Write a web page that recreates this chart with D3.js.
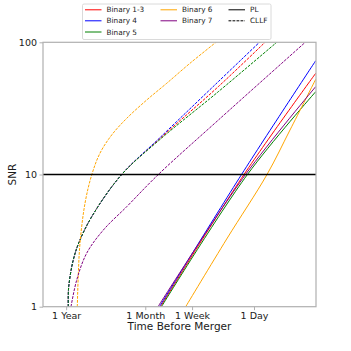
<!DOCTYPE html>
<html>
<head>
<meta charset="utf-8">
<script src="https://cdn.jsdelivr.net/npm/d3@7"></script>
<style>
  body { margin: 0; background: #fff; }
  text { font-family: "DejaVu Sans", sans-serif; fill: #1a1a1a; }
</style>
</head>
<body>
<div id="vis"></div>
<script>

// time before merger in days, SNR
var plBinary13 = [[18.9, 1], [1.37, 10], [0.144, 58.3]];
var plBinary4 = [[19.5, 1], [1.48, 10], [0.144, 72.6]];
var plBinary5 = [[18.3, 1], [1.23, 10], [0.144, 42.3]];
var plBinary6 = [[8.55, 1], [2.36, 3.25], [0.665, 10], [0.323, 21.7], [0.144, 52.5]];
var plBinary7 = [[20.4, 1], [1.306, 10], [0.144, 46.2]];

var cllfBinary13 = [[341.6, 1], [338.3, 1.385], [292, 2.26], [236.5, 3.2], [155.7, 5.02], [63.8, 10], [19.2, 18.7], [3.07, 46.2], [0.708, 100]];
var cllfBinary4 = [[341.6, 1], [338.3, 1.385], [292, 2.26], [236.5, 3.2], [155.7, 5.02], [63.8, 10], [19.2, 19.0], [3.07, 50.4], [0.828, 101]];
var cllfBinary5 = [[341.6, 1], [338.3, 1.385], [292, 2.26], [236.5, 3.2], [155.7, 5.02], [63.8, 10], [19.2, 18.4], [3.07, 42.3], [0.49, 100]];
var cllfBinary6 = [[257.5, 1], [249.5, 1.74], [236.5, 3.02], [202.1, 6.06], [163.8, 9.91], [126.2, 14.5], [87.4, 19.9], [54.5, 26.6], [29.1, 36.6], [15.5, 49], [7.47, 69.4], [3.23, 101]];
var cllfBinary7 = [[313.8, 1], [262.4, 1.59], [191.6, 2.54], [113.7, 3.8], [54.5, 5.71], [20.2, 10], [3.07, 25.8], [0.2, 100]];

var binaryNames = ['Binary 1-3', 'Binary 4', 'Binary 5', 'Binary 6', 'Binary 7'];
var binaryColors = ['#ff0000', '#0000ff', '#008000', '#ffa500', '#800080'];
var plSeries = [plBinary13, plBinary4, plBinary5, plBinary6, plBinary7];
var cllfSeries = [cllfBinary13, cllfBinary4, cllfBinary5, cllfBinary6, cllfBinary7];

var xTickValues = [365.25, 30.44, 7, 1];
var xTickLabels = ['1 Year', '1 Month', '1 Week', '1 Day'];
var yTickValues = [1, 10, 100];
var thresholdSNR = 10;

var width = 351;
var height = 351;
var margin = { left: 43, right: 35, top: 42.3, bottom: 44.3 };

var svg = d3.select('#vis').append('svg')
  .attr('width', width)
  .attr('height', height);

var x = d3.scaleLog()
  .domain([756, 0.1427])
  .range([margin.left, width - margin.right]);

var y = d3.scaleLog()
  .domain([1, 100])
  .range([height - margin.bottom, margin.top]);

svg.append('clipPath').attr('id', 'plotclip')
  .append('rect')
  .attr('x', margin.left)
  .attr('y', margin.top)
  .attr('width', width - margin.left - margin.right)
  .attr('height', height - margin.top - margin.bottom);

var line = d3.line()
  .x(function (d) { return x(d[0]); })
  .y(function (d) { return y(d[1]); })
  .curve(d3.curveCatmullRom.alpha(0.5));

var plot = svg.append('g').attr('clip-path', 'url(#plotclip)');

plot.selectAll('.pl')
  .data(plSeries)
  .enter().append('path')
  .attr('class', 'pl')
  .attr('d', line)
  .attr('fill', 'none')
  .attr('stroke', function (d, i) { return binaryColors[i]; })
  .attr('stroke-width', 1);

plot.selectAll('.cllf')
  .data(cllfSeries)
  .enter().append('path')
  .attr('class', 'cllf')
  .attr('d', line)
  .attr('fill', 'none')
  .attr('stroke', function (d, i) { return binaryColors[i]; })
  .attr('stroke-width', 1)
  .attr('stroke-dasharray', '2.8,1.2');

// SNR threshold
plot.append('line')
  .attr('x1', margin.left)
  .attr('x2', width - margin.right)
  .attr('y1', y(thresholdSNR))
  .attr('y2', y(thresholdSNR))
  .attr('stroke', '#000')
  .attr('stroke-width', 1.3);

// frame
svg.append('rect')
  .attr('x', margin.left)
  .attr('y', margin.top)
  .attr('width', width - margin.left - margin.right)
  .attr('height', height - margin.top - margin.bottom)
  .attr('fill', 'none')
  .attr('stroke', '#b0b0b0')
  .attr('stroke-width', 1.2);

var xAxis = d3.axisBottom(x)
  .tickValues(xTickValues)
  .tickFormat(function (d, i) { return xTickLabels[i]; })
  .tickSize(3.5)
  .tickPadding(2.5);

var xg = svg.append('g')
  .attr('transform', 'translate(0,' + (height - margin.bottom) + ')')
  .call(xAxis);

var yAxis = d3.axisLeft(y)
  .tickValues(yTickValues)
  .tickFormat(d3.format('d'))
  .tickSize(3.5)
  .tickPadding(2.5);

var yg = svg.append('g')
  .attr('transform', 'translate(' + margin.left + ',0)')
  .call(yAxis);

[xg, yg].forEach(function (g) {
  g.select('.domain').remove();
  g.selectAll('.tick line').attr('stroke', '#b0b0b0').attr('stroke-width', 1);
  g.selectAll('.tick text')
    .style('font-family', '"DejaVu Sans", sans-serif')
    .style('font-size', '9.5px')
    .attr('fill', '#1a1a1a');
});

svg.append('text')
  .attr('x', (margin.left + width - margin.right) / 2)
  .attr('y', 330)
  .attr('text-anchor', 'middle')
  .style('font-size', '10.5px')
  .text('Time Before Merger');

svg.append('text')
  .attr('transform', 'translate(16,' + ((margin.top + height - margin.bottom) / 2) + ') rotate(-90)')
  .attr('text-anchor', 'middle')
  .style('font-size', '10.5px')
  .text('SNR');

// legend
var legendItems = binaryNames.map(function (n, i) {
  return { label: n, color: binaryColors[i], dash: null };
});
legendItems.push({ label: 'PL', color: '#000', dash: null });
legendItems.push({ label: 'CLLF', color: '#000', dash: '2.8,1.2' });

var legendPos = [[0, 0], [0, 1], [0, 2], [1, 0], [1, 1], [2, 0], [2, 1]];
var colX = [85, 160.5, 228.5];
var rowY = [9.8, 20.8, 32];

var legend = svg.append('g');

legend.append('rect')
  .attr('x', 82.5)
  .attr('y', 4)
  .attr('width', 188.5)
  .attr('height', 35.5)
  .attr('rx', 1.5)
  .attr('fill', '#fff')
  .attr('stroke', '#d0d0d0')
  .attr('stroke-width', 0.8);

var li = legend.selectAll('.li')
  .data(legendItems)
  .enter().append('g')
  .attr('class', 'li')
  .attr('transform', function (d, i) {
    return 'translate(' + colX[legendPos[i][0]] + ',' + rowY[legendPos[i][1]] + ')';
  });

li.append('line')
  .attr('x1', 0)
  .attr('x2', 16.5)
  .attr('stroke', function (d) { return d.color; })
  .attr('stroke-width', 1)
  .attr('stroke-dasharray', function (d) { return d.dash; });

li.append('text')
  .attr('x', 21.5)
  .attr('dy', '0.35em')
  .style('font-size', '7.3px')
  .text(function (d) { return d.label; });

</script>
</body>
</html>
